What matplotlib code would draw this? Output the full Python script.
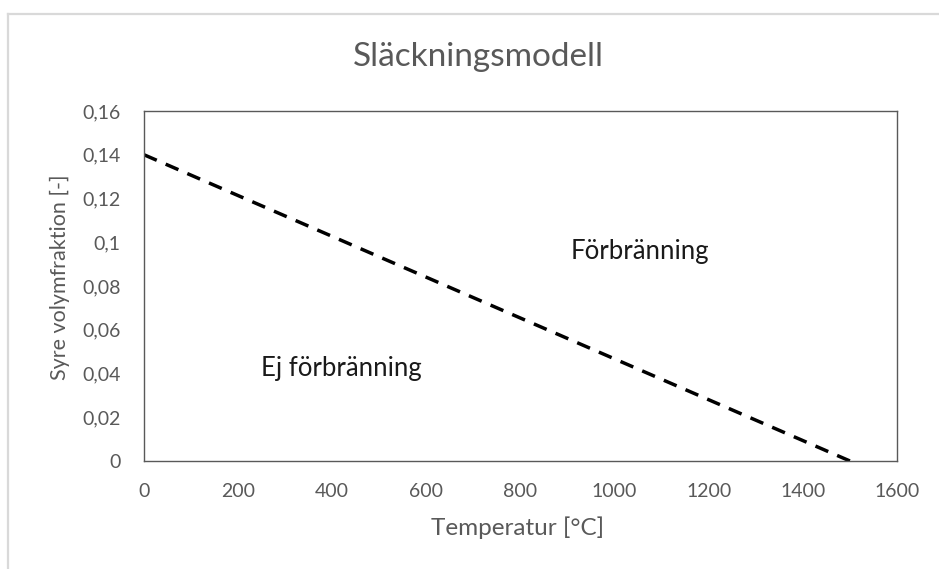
import matplotlib
matplotlib.use('Agg')
import matplotlib.pyplot as plt
from matplotlib.lines import Line2D
from matplotlib.ticker import FuncFormatter

plt.rcParams['font.family'] = ['Lato', 'DejaVu Sans']

temp = [0, 1500]
syre = [0.14, 0.0]
xticks = [0, 200, 400, 600, 800, 1000, 1200, 1400, 1600]
yticks = [0, 0.02, 0.04, 0.06, 0.08, 0.1, 0.12, 0.14, 0.16]

grey = '#595959'

fig = plt.figure(figsize=(9.39, 5.69), dpi=100)
ax = fig.add_axes([144/939, 1 - 461/569, (897-144)/939, (461-111)/569])

ax.plot(temp, syre, color='black', lw=2.5, linestyle=(0, (4, 2.8)))

ax.set_xlim(0, 1600)
ax.set_ylim(0, 0.16)
ax.set_xticks(xticks)
ax.set_yticks(yticks)
ax.yaxis.set_major_formatter(FuncFormatter(lambda v, p: ('%g' % round(v, 2)).replace('.', ',')))
ax.tick_params(length=0, labelsize=14, labelcolor=grey)
ax.tick_params(axis='y', pad=17)
ax.tick_params(axis='x', pad=16)
for s in ax.spines.values():
    s.set_color(grey)
    s.set_linewidth(1.0)

ax.text(1054, 0.096, 'Förbränning', fontsize=18.5, color='#1a1a1a', ha='center', va='center')
ax.text(420, 0.0425, 'Ej förbränning', fontsize=18.5, color='#1a1a1a', ha='center', va='center')

fig.text(478/939, 1 - 57/569, 'Släckningsmodell', fontsize=24, color=grey, ha='center', va='center')
fig.text(518/939, 1 - 528/569, 'Temperatur [°C]', fontsize=17.5, color=grey, ha='center', va='center')
fig.text(60/939, 1 - 277/569, 'Syre volymfraktion [-]', fontsize=15.5, color=grey, ha='center', va='center', rotation=90)

# chart frame
fig.add_artist(Line2D([8/939, 8/939], [0, 1 - 14/569], transform=fig.transFigure, color='#d9d9d9', lw=1.6))
fig.add_artist(Line2D([8/939, 1], [1 - 14/569, 1 - 14/569], transform=fig.transFigure, color='#d9d9d9', lw=1.6))

fig.savefig('out.png', dpi=100)
